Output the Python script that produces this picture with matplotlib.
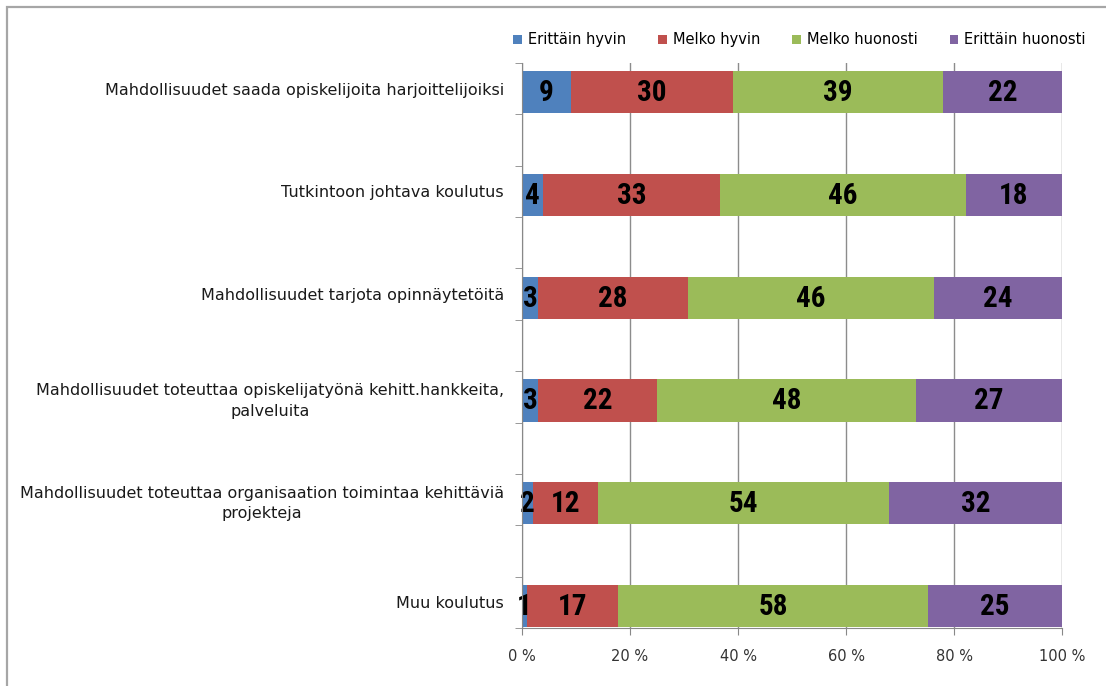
import matplotlib
matplotlib.use("Agg")
import matplotlib.pyplot as plt
from matplotlib.patches import Rectangle
from matplotlib import font_manager
import numpy as np

categories = [
    "Mahdollisuudet saada opiskelijoita harjoittelijoiksi",
    "Tutkintoon johtava koulutus",
    "Mahdollisuudet tarjota opinnäytetöitä",
    "Mahdollisuudet toteuttaa opiskelijatyönä kehitt.hankkeita,\npalveluita",
    "Mahdollisuudet toteuttaa organisaation toimintaa kehittäviä\nprojekteja",
    "Muu koulutus",
]
series_names = ["Erittäin hyvin", "Melko hyvin", "Melko huonosti", "Erittäin huonosti"]
erittain_hyvin = [9, 4, 3, 3, 2, 1]
melko_hyvin = [30, 33, 28, 22, 12, 17]
melko_huonosti = [39, 46, 46, 48, 54, 58]
erittain_huonosti = [22, 18, 24, 27, 32, 25]
xtick_labels = ["0 %", "20 %", "40 %", "60 %", "80 %", "100 %"]

colors = ["#4F81BD", "#C0504D", "#9BBB59", "#8064A2"]

series = np.array([erittain_hyvin, melko_hyvin, melko_huonosti, erittain_huonosti], dtype=float)
totals = series.sum(axis=0)
shares = series / totals * 100

# pick a condensed bold font if available
names = {f.name for f in font_manager.fontManager.ttflist}
cond_family = None
for cand in ["Liberation Sans Narrow", "DejaVu Sans Condensed", "Roboto Condensed",
             "Open Sans Condensed"]:
    if cand in names:
        cond_family = cand
        break
cond_stretch = "normal"
if cond_family is None:
    cond_family = "DejaVu Sans"
    for f in font_manager.fontManager.ttflist:
        if f.name == "DejaVu Sans" and f.stretch == "condensed":
            cond_stretch = "condensed"
            break

fig = plt.figure(figsize=(11.06, 6.86), dpi=100)
ax = fig.add_axes([522 / 1106, 1 - 628 / 686, 540 / 1106, (628 - 63) / 686])

ypos = np.arange(len(categories)) * 2.0
left = np.zeros(len(categories))
for k in range(4):
    bars = ax.barh(ypos + 0.07, shares[k], left=left, height=0.82, color=colors[k],
                   label=series_names[k], zorder=3)
    for i, b in enumerate(bars):
        ax.text(left[i] + shares[k][i] / 2, ypos[i] + 0.09, f"{int(series[k][i])}",
                ha="center", va="center", fontsize=21, fontweight="bold",
                family=[cond_family, "DejaVu Sans"], fontstretch=cond_stretch,
                color="black", zorder=4)
    left += shares[k]

ax.set_xlim(0, 100)
ax.set_ylim(ypos[-1] + 0.5, -0.5)
ax.set_xticks([0, 20, 40, 60, 80, 100])
ax.set_xticklabels(xtick_labels, fontsize=10.5, color="#333333")
ax.set_yticks(ypos)
ax.set_yticklabels(categories, fontsize=11.5, color="#1a1a1a", multialignment="center",
                   linespacing=1.45)
ax.set_yticks(np.arange(-0.5, ypos[-1] + 1, 1.0), minor=True)
ax.tick_params(axis="y", which="major", length=0, pad=13)
ax.tick_params(axis="y", which="minor", length=5, color="#888888", direction="out")
ax.tick_params(axis="x", length=5, color="#888888", pad=10)
ax.xaxis.grid(True, color="#8c8c8c", linewidth=1, zorder=0)
for s in ["top", "right"]:
    ax.spines[s].set_visible(False)
for s in ["left", "bottom"]:
    ax.spines[s].set_color("#888888")
    ax.spines[s].set_zorder(5)

fig.legend(*ax.get_legend_handles_labels(), loc="center", bbox_to_anchor=(0.723, 0.942),
           ncol=4, frameon=False, fontsize=10.5, handlelength=0.6, handleheight=0.6,
           handletextpad=0.4, columnspacing=2.2)

fig.patches.append(Rectangle((7 / 1106, -0.2), 2, 1.2 - 7 / 686, transform=fig.transFigure,
                             fill=False, edgecolor="#a6a6a6", linewidth=1.6, zorder=0))

fig.savefig("out.png", dpi=100, facecolor="white")
